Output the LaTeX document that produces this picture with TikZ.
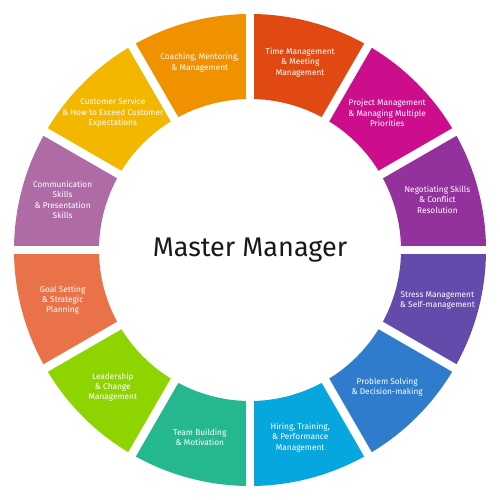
\documentclass[tikz,border=0pt]{standalone}
\usepackage{fontspec}
\setmainfont{Fira Sans}
\begin{document}
\begin{tikzpicture}[x=1pt,y=1pt,
  lbl/.style={text=white,align=center,font=\fontsize{8.3}{10.3}\selectfont,inner sep=0pt},
  title/.style={text=black!90,font=\fontsize{27}{30}\selectfont,inner sep=0pt}]
\useasboundingbox[fill=white] (-250,-250) rectangle (250,250);
\definecolor{c0}{HTML}{E04A12}
\definecolor{c1}{HTML}{CC0E8C}
\definecolor{c2}{HTML}{93329C}
\definecolor{c3}{HTML}{644AAB}
\definecolor{c4}{HTML}{2F7BCC}
\definecolor{c5}{HTML}{06A6DF}
\definecolor{c6}{HTML}{25B890}
\definecolor{c7}{HTML}{8ED400}
\definecolor{c8}{HTML}{EA7248}
\definecolor{c9}{HTML}{AE6BA5}
\definecolor{c10}{HTML}{F3B700}
\definecolor{c11}{HTML}{F09200}
\foreach \i in {0,...,11}{
  \pgfmathsetmacro{\aa}{90-30*\i}
  \pgfmathsetmacro{\ab}{60-30*\i}
  \fill[c\i] (\aa:151) arc[start angle=\aa,end angle=\ab,radius=151] -- (\ab:236)
     arc[start angle=\ab,end angle=\aa,radius=236] -- cycle;
}
\foreach \a in {0,30,...,330}{
  \draw[white,line width=8.5] (\a:140) -- (\a:245);
}
\node[title] (master) at (0,0) {Master Manager};
\node[lbl] (l0) at (75:194) {Time Management\\\& Meeting\\Management};
\node[lbl] (l1) at (45:194) {Project Management\\\& Managing Multiple\\Priorities};
\node[lbl] (l2) at (15:194) {Negotiating Skills\\\& Conflict\\Resolution};
\node[lbl] (l3) at (-15:194) {Stress Management\\\& Self-management};
\node[lbl] (l4) at (-45:194) {Problem Solving\\\& Decision-making};
\node[lbl] (l5) at (-75:194) {Hiring, Training,\\\& Performance\\Management};
\node[lbl] (l6) at (-105:194) {Team Building\\\& Motivation};
\node[lbl] (l7) at (-135:194) {Leadership\\\& Change\\Management};
\node[lbl] (l8) at (-165:194) {Goal Setting\\\& Strategic\\Planning};
\node[lbl] (l9) at (165:194) {Communication\\Skills\\\& Presentation\\Skills};
\node[lbl] (l10) at (135:194) {Customer Service\\\& How to Exceed Customer\\Expectations};
\node[lbl] (l11) at (105:194) {Coaching, Mentoring,\\\& Management};
\end{tikzpicture}
\end{document}
